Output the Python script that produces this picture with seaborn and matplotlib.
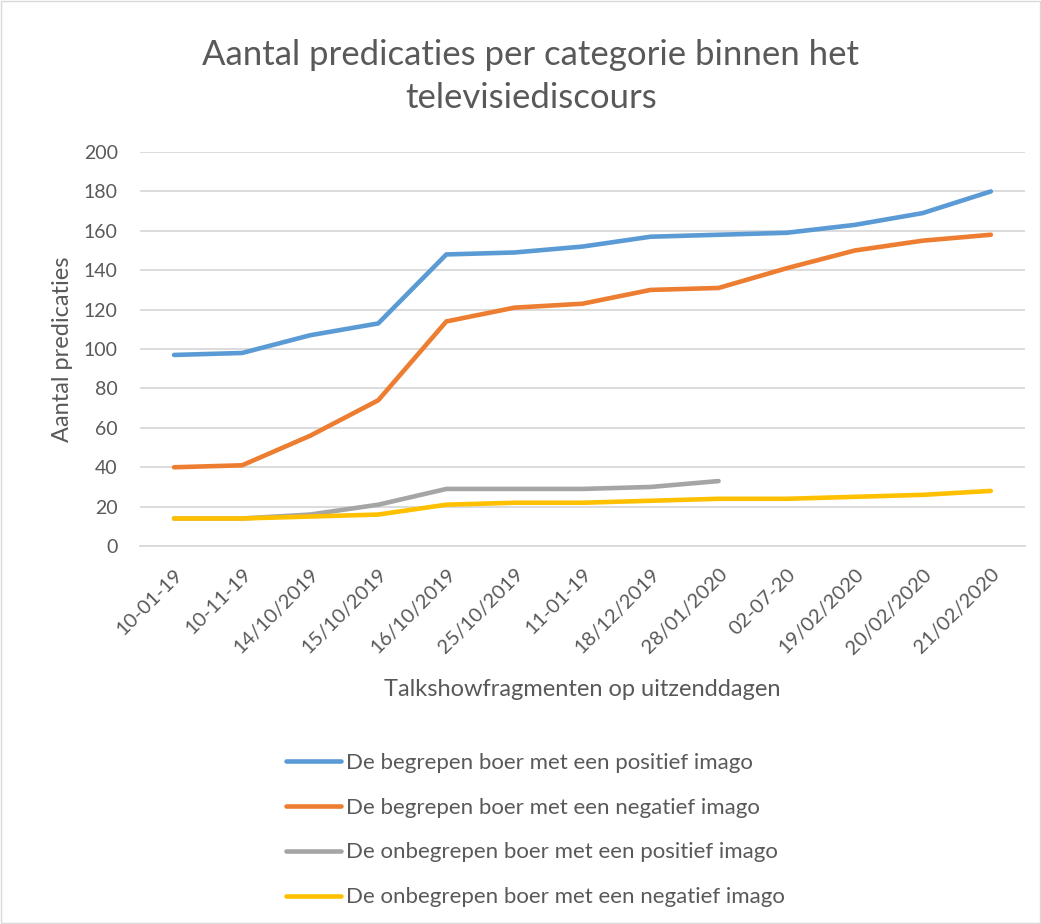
import pandas as pd
import numpy as np
import matplotlib
matplotlib.use("Agg")
import matplotlib.pyplot as plt
import seaborn as sns

# Data
dates = ['10-01-19', '10-11-19', '14/10/2019', '15/10/2019', '16/10/2019',
         '25/10/2019', '11-01-19', '18/12/2019', '28/01/2020', '02-07-20',
         '19/02/2020', '20/02/2020', '21/02/2020']
series_names = ['De begrepen boer met een positief imago',
                'De begrepen boer met een negatief imago',
                'De onbegrepen boer met een positief imago',
                'De onbegrepen boer met een negatief imago']
begrepen_pos = [97, 98, 107, 113, 148, 149, 152, 157, 158, 159, 163, 169, 180]
begrepen_neg = [40, 41, 56, 74, 114, 121, 123, 130, 131, 141, 150, 155, 158]
onbegrepen_pos = [14, 14, 16, 21, 29, 29, 29, 30, 33, np.nan, np.nan, np.nan, np.nan]
onbegrepen_neg = [14, 14, 15, 16, 21, 22, 22, 23, 24, 24, 25, 26, 28]
colors = ['#5B9BD5', '#ED7D31', '#A5A5A5', '#FFC000']

# Build a long-form table for seaborn
frames = []
for name, vals in zip(series_names, [begrepen_pos, begrepen_neg, onbegrepen_pos, onbegrepen_neg]):
    frames.append(pd.DataFrame({'datum': dates, 'waarde': vals, 'reeks': name}))
data = pd.concat(frames, ignore_index=True).dropna()

sns.set_style('white')
plt.rcParams['font.family'] = ['Lato', 'DejaVu Sans']

fig = plt.figure(figsize=(10.41, 9.24), dpi=100)
ax = fig.add_axes([0.1345, 0.409, 0.850, 0.4265])

sns.lineplot(data=data, x='datum', y='waarde', hue='reeks', palette=colors,
             linewidth=3.3, ax=ax, legend=False, sort=False)
for line in ax.lines:
    line.set_solid_capstyle('round')

# Axes styling
ax.set_ylim(0, 200)
ax.set_yticks(range(0, 201, 20))
ax.set_xlim(-0.5, len(dates) - 0.5)
ax.grid(axis='y', color='#d9d9d9', linewidth=1.3)
ax.set_axisbelow(True)
for side in ['top', 'right', 'left']:
    ax.spines[side].set_visible(False)
ax.spines['bottom'].set_color('#d9d9d9')
ax.spines['bottom'].set_linewidth(1.3)
ax.tick_params(axis='y', length=0, labelsize=14, colors='#595959', pad=16)
ax.tick_params(axis='x', length=0, labelsize=14.5, colors='#595959', pad=14)
plt.setp(ax.get_xticklabels(), rotation=45, ha='right', rotation_mode='anchor')

ax.set_xlabel('Talkshowfragmenten op uitzenddagen', fontsize=17, color='#595959', labelpad=16)
ax.set_ylabel('Aantal predicaties', fontsize=17, color='#595959', labelpad=8)

# Title
fig.text(0.51, 0.917, 'Aantal predicaties per categorie binnen het\ntelevisiediscours',
         ha='center', va='center', fontsize=25, color='#595959', linespacing=1.42)

# Legend below the plot
handles = [plt.Line2D([], [], color=c, linewidth=3.3) for c in colors]
fig.legend(handles, series_names, loc='upper left', bbox_to_anchor=(0.266, 0.195),
           frameon=False, fontsize=16, handlelength=2.5, handletextpad=0.23,
           labelspacing=1.12, labelcolor='#595959', borderaxespad=0)

# Light frame around the whole chart
fig.patches.append(plt.Rectangle((0.001, 0.001), 0.998, 0.998, transform=fig.transFigure,
                                 fill=False, edgecolor='#d9d9d9', linewidth=1))

fig.savefig('out.png', dpi=100)
